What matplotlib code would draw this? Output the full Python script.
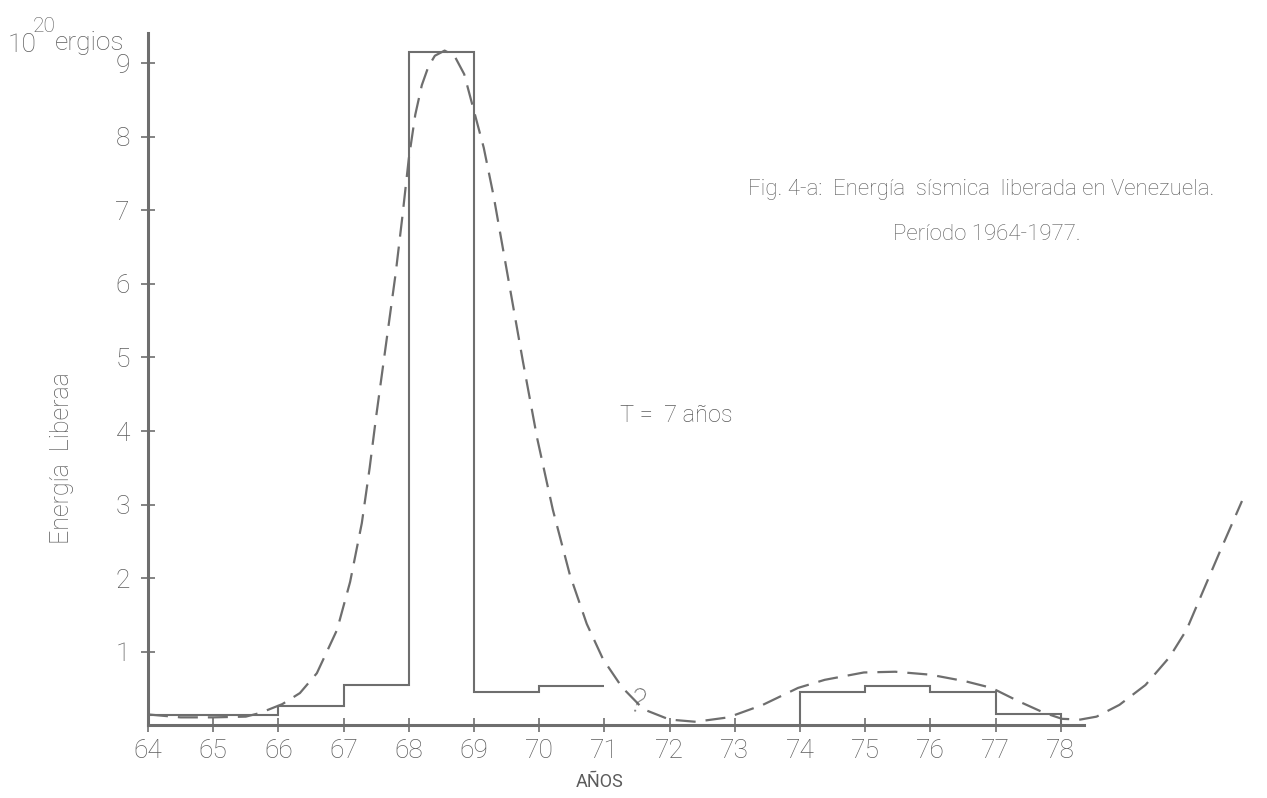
import matplotlib as mpl
mpl.use('Agg')
import matplotlib.pyplot as plt

# histogram of released energy (10^20 ergios) per year
edges_a = [64, 66, 67, 68, 69, 70, 71]
energy_a = [0.14, 0.27, 0.55, 9.15, 0.46, 0.54]
edges_b = [74, 75, 76, 77, 78]
energy_b = [0.45, 0.54, 0.45, 0.16]

# dashed fitted curve
curve_x = [64.0, 64.5, 65.0, 65.5, 65.72, 66.06, 66.33, 66.59, 66.9, 67.1,
           67.28, 67.4, 67.5, 67.6, 67.7, 67.8, 67.9, 68.0, 68.1, 68.2,
           68.3, 68.4, 68.55, 68.7, 68.85, 69.0, 69.15, 69.3, 69.45, 69.6,
           69.75, 69.97, 70.21, 70.47, 70.73, 70.98, 71.27, 71.6, 72.0, 72.4,
           72.9, 73.43, 73.97, 74.38, 74.98, 75.46, 76.0, 76.54, 76.94, 77.35,
           77.75, 78.02, 78.3, 78.55, 78.9, 79.3, 79.67, 79.93, 80.18, 80.44,
           80.78]
curve_y = [0.15, 0.11, 0.11, 0.12, 0.17, 0.29, 0.44, 0.71, 1.3, 1.95,
           2.75, 3.5, 4.2, 4.85, 5.5, 6.15, 6.9, 7.7, 8.3, 8.7,
           8.95, 9.1, 9.17, 9.1, 8.85, 8.35, 7.85, 7.2, 6.45, 5.7,
           4.95, 3.9, 2.93, 2.05, 1.38, 0.9, 0.52, 0.22, 0.08, 0.05,
           0.11, 0.28, 0.51, 0.62, 0.72, 0.73, 0.69, 0.6, 0.51, 0.33,
           0.17, 0.09, 0.08, 0.12, 0.28, 0.55, 0.93, 1.3, 1.82, 2.36,
           3.05]

years = list(range(64, 79))
yticks = list(range(1, 10))

grey = '#6e6e6e'
txt = '#5c5c5c'
plt.rcParams['font.family'] = ['Roboto', 'DejaVu Sans']

fig = plt.figure(figsize=(12.67, 7.98), dpi=100)
ax = fig.add_axes([0.1168, 0.0909, 0.8825, 0.9038])
ax.set_xlim(64, 81.15)
ax.set_ylim(0, 9.8)

ax.stairs(energy_a, edges_a, baseline=None, color=grey, lw=1.5)
ax.stairs(energy_b, edges_b, baseline=0, color=grey, lw=1.5)
ax.plot(curve_x, curve_y, color=grey, lw=1.6, dashes=(9, 4.5))

for s in ['top', 'right']:
    ax.spines[s].set_visible(False)
ax.spines['left'].set_bounds(0, 9.41)
ax.spines['bottom'].set_bounds(64, 78.35)
for s in ['left', 'bottom']:
    ax.spines[s].set_color(grey)
    ax.spines[s].set_linewidth(2.2)

ax.set_xticks(years)
ax.set_xticklabels([str(y) for y in years], fontweight='light')
ax.set_yticks(yticks)
ax.set_yticklabels([str(v) for v in yticks], fontweight='light')
ax.tick_params(axis='both', direction='inout', length=10, width=1.2,
               colors=grey, labelcolor=txt, labelsize=19)
ax.tick_params(axis='x', pad=5)
ax.tick_params(axis='y', pad=8)

# labels and annotations
fig.text(8 / 1267, 1 - 52 / 798, '10', fontsize=19, color=txt, fontweight='light')
fig.text(33 / 1267, 1 - 32 / 798, '20', fontsize=15, color=txt, fontweight='light')
fig.text(55 / 1267, 1 - 50 / 798, 'ergios', fontsize=19, color=txt, fontweight='light')
fig.text(62 / 1267, 1 - 458 / 798, 'Energía  Liberaa', fontsize=18, color=txt,
         rotation=90, ha='center', va='center', fontweight='light')
fig.text(748 / 1267, 1 - 195 / 798,
         'Fig. 4-a:  Energía  sísmica  liberada en Venezuela.',
         fontsize=16, color=txt, fontweight='light')
fig.text(893 / 1267, 1 - 240 / 798, 'Período 1964-1977.', fontsize=16,
         color=txt, fontweight='light')
fig.text(620 / 1267, 1 - 422 / 798, 'T =  7 años', fontsize=17, color=txt,
         fontweight='light')
fig.text(600 / 1267, 1 - 787 / 798, 'AÑOS', fontsize=13, color=txt,
         ha='center')
ax.text(71.5, 0.3, '?', fontsize=24, color=txt, ha='center', va='center',
        rotation=-15, fontweight='light')

fig.savefig('out.png', dpi=100, facecolor='white')
